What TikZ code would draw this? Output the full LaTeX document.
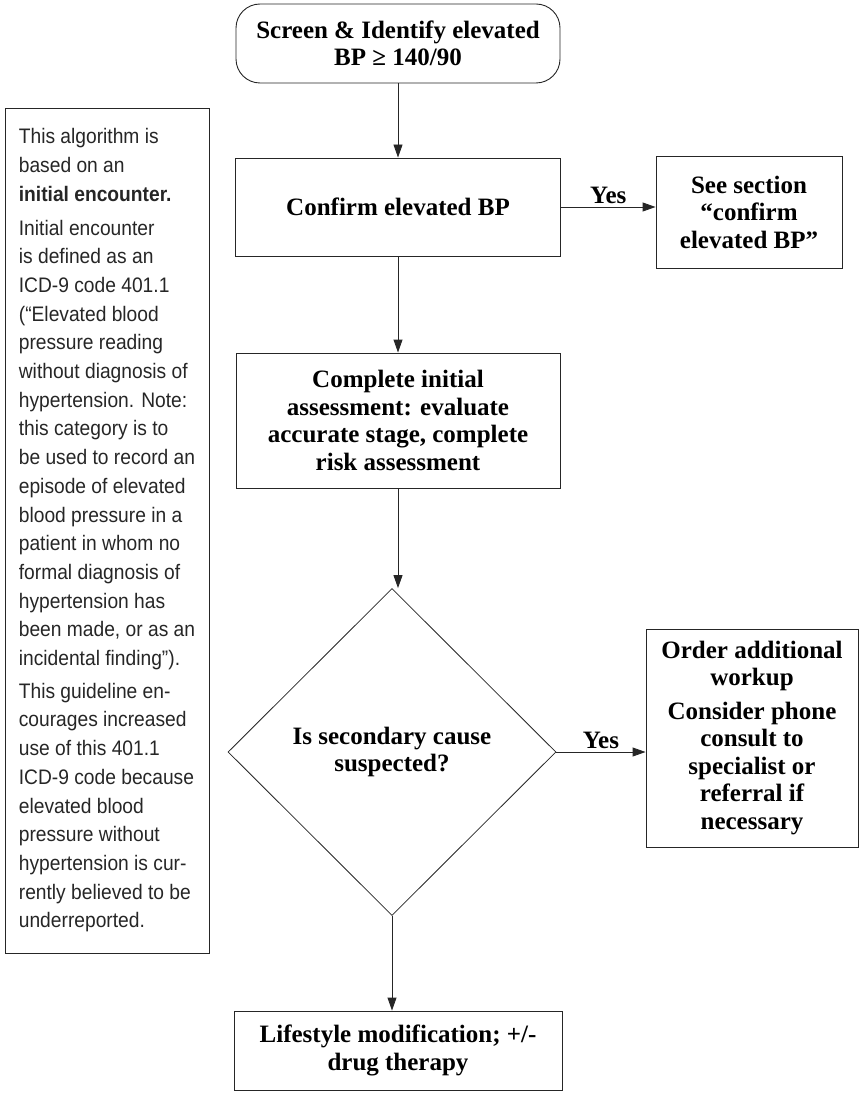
\documentclass[tikz,border=0pt]{standalone}
\usepackage{fontspec}
\setmainfont{Liberation Serif}
\newfontfamily\notefont[FakeStretch=0.915]{Liberation Sans}
\usetikzlibrary{arrows.meta,shapes.geometric}

\begin{document}
\begin{tikzpicture}[x=1pt,y=-1pt,line width=0.9pt,
    flowbox/.style={rectangle,draw=black!85,align=center,inner sep=0pt,
        font=\fontsize{25}{27.5}\selectfont\bfseries},
    flowarrow/.style={draw=black!85,-{Triangle[length=13pt,width=9pt]}},
    yeslabel/.style={font=\fontsize{25}{27.5}\selectfont\bfseries,inner sep=3pt}]

    \useasboundingbox (0,0) rectangle (863,1094);

    %%%%%%%%%%%%%%%%%%%%%%%%%%%%%%%%%%%%%%%%%%%%%%%%%%%%%%

    % screening step
    \node[flowbox,rounded corners=24pt,minimum width=324,minimum height=79] (screen) at (398,43.5) {Screen \& Identify elevated\\BP ≥ 140/90};

    % confirm step
    \node[flowbox,minimum width=325,minimum height=98] (confirm) at (398,207) {Confirm elevated BP};
    \draw[flowarrow] (screen) to (confirm);

    % see section box
    \node[flowbox,minimum width=186,minimum height=112] (seesec) at (749,212) {See section\\“confirm\\elevated BP”};
    \draw[flowarrow] (confirm.east) to node[yeslabel,above] (yesone) {Yes} (confirm.east -| seesec.west);

    %%%%%%%%%%%%%%%%%%%%%%%%%%%%%%%%%%%%%%%%%%%%%%%%%%%%%%

    % initial assessment
    \node[flowbox,minimum width=324,minimum height=135] (assess) at (398,420.5) {Complete initial\\assessment: evaluate\\accurate stage, complete\\risk assessment};
    \draw[flowarrow] (confirm) to (assess);

    % secondary cause decision
    \node[diamond,draw=black!85,line width=0.8pt,inner sep=0pt,minimum width=328,minimum height=327,align=center,
        font=\fontsize{25}{27.5}\selectfont\bfseries] (cause) at (392,752) {Is secondary cause\\suspected?};
    \draw[flowarrow] (assess.south) to (assess.south |- cause.north);

    % workup box
    \node[flowbox,minimum width=212,minimum height=218] (workup) at (752,738) {Order additional\\workup\\[6pt]Consider phone\\consult to\\specialist or\\referral if\\necessary};
    \draw[flowarrow] (cause.east) to node[yeslabel,above] (yestwo) {Yes} (cause.east -| workup.west);

    %%%%%%%%%%%%%%%%%%%%%%%%%%%%%%%%%%%%%%%%%%%%%%%%%%%%%%

    % lifestyle step
    \node[flowbox,minimum width=328,minimum height=79] (lifestyle) at (398,1050.5) {Lifestyle modification; +/-\\drug therapy};
    \draw[flowarrow] (cause.south) to (cause.south |- lifestyle.north);

    %%%%%%%%%%%%%%%%%%%%%%%%%%%%%%%%%%%%%%%%%%%%%%%%%%%%%%

    % side note
    \node[draw=black!85,rectangle,minimum width=204,minimum height=845,inner sep=0pt,align=left,
        font=\notefont\fontsize{21}{28.7}\selectfont\color{black!85}] (note) at (107,530.5)
        {This algorithm is\\based on an\\\textbf{initial encounter.}\\[5pt]Initial encounter\\is defined as an\\ICD-9 code 401.1\\(“Elevated blood\\pressure reading\\without diagnosis of\\hypertension. Note:\\this category is to\\be used to record an\\episode of elevated\\blood pressure in a\\patient in whom no\\formal diagnosis of\\hypertension has\\been made, or as an\\incidental finding”).\\[4pt]This guideline en-\\courages increased\\use of this 401.1\\ICD-9 code because\\elevated blood\\pressure without\\hypertension is cur-\\rently believed to be\\underreported.};

\end{tikzpicture}
\end{document}
